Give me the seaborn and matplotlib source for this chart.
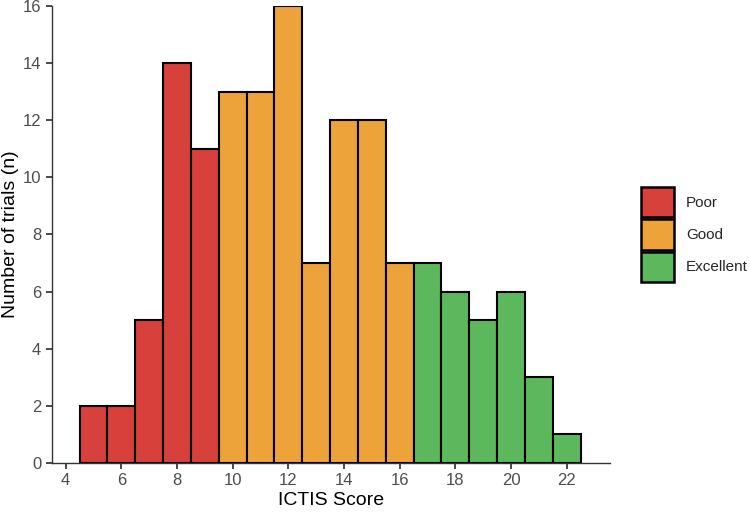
import pandas as pd
import seaborn as sns
import matplotlib.pyplot as plt

# Data
scores = [5, 6, 7, 8, 9, 10, 11, 12, 13, 14, 15, 16, 17, 18, 19, 20, 21, 22]
counts = [2, 2, 5, 14, 11, 13, 13, 16, 7, 12, 12, 7, 7, 6, 5, 6, 3, 1]
grades = ["Poor"] * 5 + ["Good"] * 7 + ["Excellent"] * 6
palette = {"Poor": "#D7403B", "Good": "#EDA23A", "Excellent": "#5CB85D"}

df = pd.DataFrame({"score": scores, "count": counts, "grade": grades})

sns.set_theme(style="ticks")
plt.rcParams["font.family"] = ["Liberation Sans", "DejaVu Sans"]

fig = plt.figure(figsize=(7.5, 5.12), dpi=100)
ax = fig.add_axes([0.069, 0.096, 0.744, 0.892])

sns.barplot(data=df, x="score", y="count", hue="grade", palette=palette,
            hue_order=["Poor", "Good", "Excellent"], native_scale=True,
            dodge=False, width=1, edgecolor="black", linewidth=1.5,
            saturation=1, ax=ax)

ax.set_xlim(3.5, 23.55)
ax.set_ylim(0, 16)
ax.set_xticks(range(4, 23, 2))
ax.set_yticks(range(0, 17, 2))
ax.tick_params(labelsize=12, labelcolor="#4D4D4D", color="#333333", length=4)
for s in ["top", "right"]:
    ax.spines[s].set_visible(False)
for s in ["left", "bottom"]:
    ax.spines[s].set_color("#333333")
    ax.spines[s].set_linewidth(1)

ax.set_xlabel("ICTIS Score", fontsize=14, color="black", labelpad=3)
ax.set_ylabel("Number of trials (n)", fontsize=14, color="black", labelpad=3)

leg = ax.legend(title=None, frameon=False, fontsize=11,
                loc="center left", bbox_to_anchor=(1.031, 0.5),
                handlelength=2.2, handleheight=2.7, labelspacing=0.12,
                handletextpad=0.75)
for h in leg.legend_handles:
    h.set_linewidth(1.8)

fig.savefig("out.png", dpi=100)
